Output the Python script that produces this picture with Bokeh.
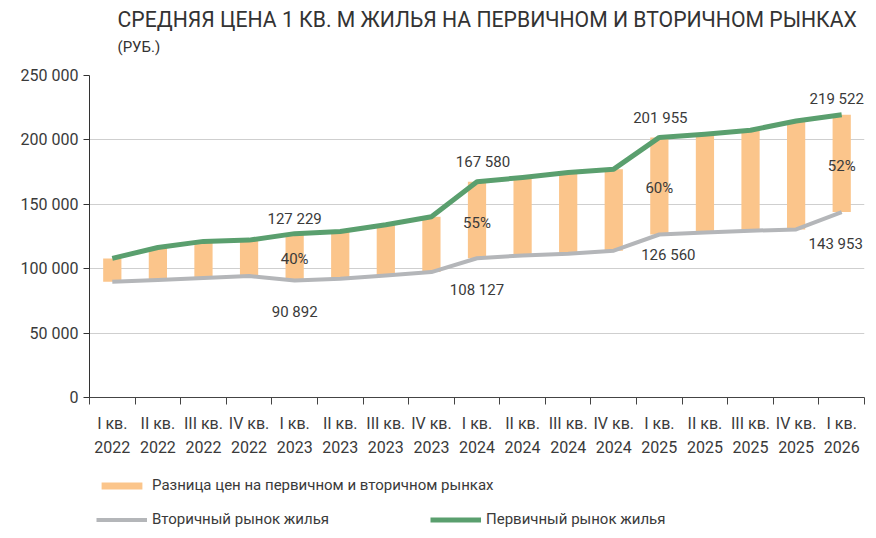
from bokeh.plotting import figure
from bokeh.models import (ColumnDataSource, LabelSet, Label, Range1d, FixedTicker,
                          Legend, LegendItem)
from bokeh.layouts import column
from bokeh.core.properties import value
from bokeh.embed import file_html
from bokeh.resources import INLINE

# data (rubles per sq. m)
categories = ["I кв.\n2022", "II кв.\n2022", "III кв.\n2022", "IV кв.\n2022",
              "I кв.\n2023", "II кв.\n2023", "III кв.\n2023", "IV кв.\n2023",
              "I кв.\n2024", "II кв.\n2024", "III кв.\n2024", "IV кв.\n2024",
              "I кв.\n2025", "II кв.\n2025", "III кв.\n2025", "IV кв.\n2025",
              "I кв.\n2026"]
primary = [108000, 116500, 121200, 122200, 127229, 128900, 134100, 140300,
           167580, 170800, 174700, 177300, 201955, 204400, 207500, 214700, 219522]
secondary = [89900, 91200, 92800, 94300, 90892, 92200, 94800, 97400,
             108127, 110300, 111600, 114000, 126560, 128100, 129500, 130500, 143953]
labelled = [4, 8, 12, 16]  # quarters that carry value labels
y_ticks = [0, 50000, 100000, 150000, 200000, 250000]

# styles
GREEN = "#5a9f6e"
GREY = "#b4b6b9"
ORANGE = "#fbc58b"
TEXT = "#3a3a3a"
FONT = "Roboto"
W = 876


def blank(height):
    # figure with no axes; in the column its frame lines up with the chart's frame
    f = figure(width=W, height=height, output_backend="svg", toolbar_location=None,
               x_range=Range1d(0, 1), y_range=Range1d(0, 1),
               x_axis_location=None, y_axis_location=None,
               min_border_left=89, min_border_right=12,
               min_border_top=0, min_border_bottom=0)
    f.outline_line_color = None
    f.xgrid.visible = False
    f.ygrid.visible = False
    return f


# title block (x in screen px from the chart's left frame edge)
t = blank(60)
t.add_layout(Label(x=28, y=41, x_units="screen", y_units="screen",
                   text="СРЕДНЯЯ ЦЕНА 1 КВ. М ЖИЛЬЯ НА ПЕРВИЧНОМ И ВТОРИЧНОМ РЫНКАХ",
                   text_font=FONT, text_font_size="21.2px", text_color="#333333",
                   text_baseline="middle"))
t.add_layout(Label(x=28, y=14, x_units="screen", y_units="screen",
                   text="(РУБ.)", text_font=FONT, text_font_size="15px",
                   text_color="#333333", text_baseline="middle"))

# main chart
xc = [i + 0.5 for i in range(len(categories))]

p = figure(width=W, height=400, output_backend="svg", toolbar_location=None,
           x_range=Range1d(0, len(categories)), y_range=Range1d(0, 250000),
           min_border_left=89, min_border_right=12, min_border_top=15,
           min_border_bottom=63)
p.outline_line_color = None

bars = p.vbar(x=xc, width=0.4, top=primary, bottom=secondary,
              fill_color=ORANGE, line_color=None)
grey = p.line(xc, secondary, line_color=GREY, line_width=4, line_join="round")
green = p.line(xc, primary, line_color=GREEN, line_width=5, line_join="round")

p.xgrid.visible = False
p.ygrid.grid_line_color = "#cfcfcf"
p.ygrid.grid_line_width = 1
p.ygrid.ticker = FixedTicker(ticks=y_ticks)

p.yaxis.ticker = FixedTicker(ticks=y_ticks)
p.yaxis.major_label_overrides = {t_: f"{t_:,}".replace(",", " ") for t_ in y_ticks}
p.yaxis.axis_line_color = "#333333"
p.yaxis.major_tick_line_color = "#333333"
p.yaxis.major_tick_out = 6
p.yaxis.major_tick_in = 0
p.yaxis.minor_tick_line_color = None
p.yaxis.major_label_standoff = 5
p.yaxis.major_label_text_font = FONT
p.yaxis.major_label_text_font_size = "16px"
p.yaxis.major_label_text_color = TEXT

p.xaxis.ticker = FixedTicker(ticks=xc, minor_ticks=list(range(len(categories) + 1)))
p.xaxis.major_label_overrides = {x: c for x, c in zip(xc, categories)}
p.xaxis.axis_line_color = "#444444"
p.xaxis.major_tick_line_color = None
p.xaxis.major_tick_out = 0
p.xaxis.major_tick_in = 0
p.xaxis.minor_tick_line_color = "#444444"
p.xaxis.minor_tick_out = 7
p.xaxis.minor_tick_in = 0
p.xaxis.major_label_standoff = 9
p.xaxis.major_label_text_font = FONT
p.xaxis.major_label_text_font_size = "16px"
p.xaxis.major_label_text_color = TEXT
p.xaxis.major_label_text_line_height = 1.3

# value labels
val_src = ColumnDataSource(dict(
    x=[xc[i] for i in labelled] * 2,
    y=[primary[i] for i in labelled] + [secondary[i] for i in labelled],
    text=[f"{primary[i]:,}".replace(",", " ") for i in labelled] +
         [f"{secondary[i]:,}".replace(",", " ") for i in labelled],
    dx=[0, 6, 1, -5, 0, 0, 9, -6],
    dy=[15, 20, 19, 16, -32, -32, -21, -32],
))
p.add_layout(LabelSet(x="x", y="y", text="text", source=val_src,
                      x_offset="dx", y_offset="dy",
                      text_align="center", text_baseline="middle",
                      text_font=value(FONT), text_font_size=value("15px"),
                      text_color=TEXT))

pct_src = ColumnDataSource(dict(
    x=[xc[i] for i in labelled],
    y=[(primary[i] + secondary[i]) / 2 for i in labelled],
    text=[f"{round((primary[i] / secondary[i] - 1) * 100)}%" for i in labelled],
    dy=[-2, -3, -2, -3],
))
p.add_layout(LabelSet(x="x", y="y", text="text", source=pct_src, y_offset="dy",
                      text_align="center", text_baseline="middle",
                      text_font=value(FONT), text_font_size=value("15px"),
                      text_color=TEXT))

# legend block: stand-in renderers kept outside the visible range
lg = blank(78)
leg_bar = lg.vbar(x=[-5], width=0.1, top=[-5], bottom=[-6],
                  fill_color=ORANGE, line_color=None)
leg_grey = lg.line([-5, -4], [-5, -5], line_color=GREY, line_width=4)
leg_green = lg.line([-5, -4], [-5, -5], line_color=GREEN, line_width=5)


def make_legend(label, renderer, loc):
    return Legend(items=[LegendItem(label=label, renderers=[renderer])],
                  location=loc, orientation="horizontal",
                  glyph_width=51, glyph_height=9, label_height=20,
                  label_standoff=5, padding=0, margin=0, spacing=0,
                  border_line_color=None, background_fill_alpha=0,
                  label_text_font=FONT, label_text_font_size="15px",
                  label_text_color=TEXT)


lg.add_layout(make_legend("Разница цен на первичном и вторичном рынках", leg_bar, (7, 43)))
lg.add_layout(make_legend("Вторичный рынок жилья", leg_grey, (7, 9)))
lg.add_layout(make_legend("Первичный рынок жилья", leg_green, (341, 9)))

layout = column(t, p, lg, spacing=0)
open("out.html", "w").write(file_html(layout, INLINE))
